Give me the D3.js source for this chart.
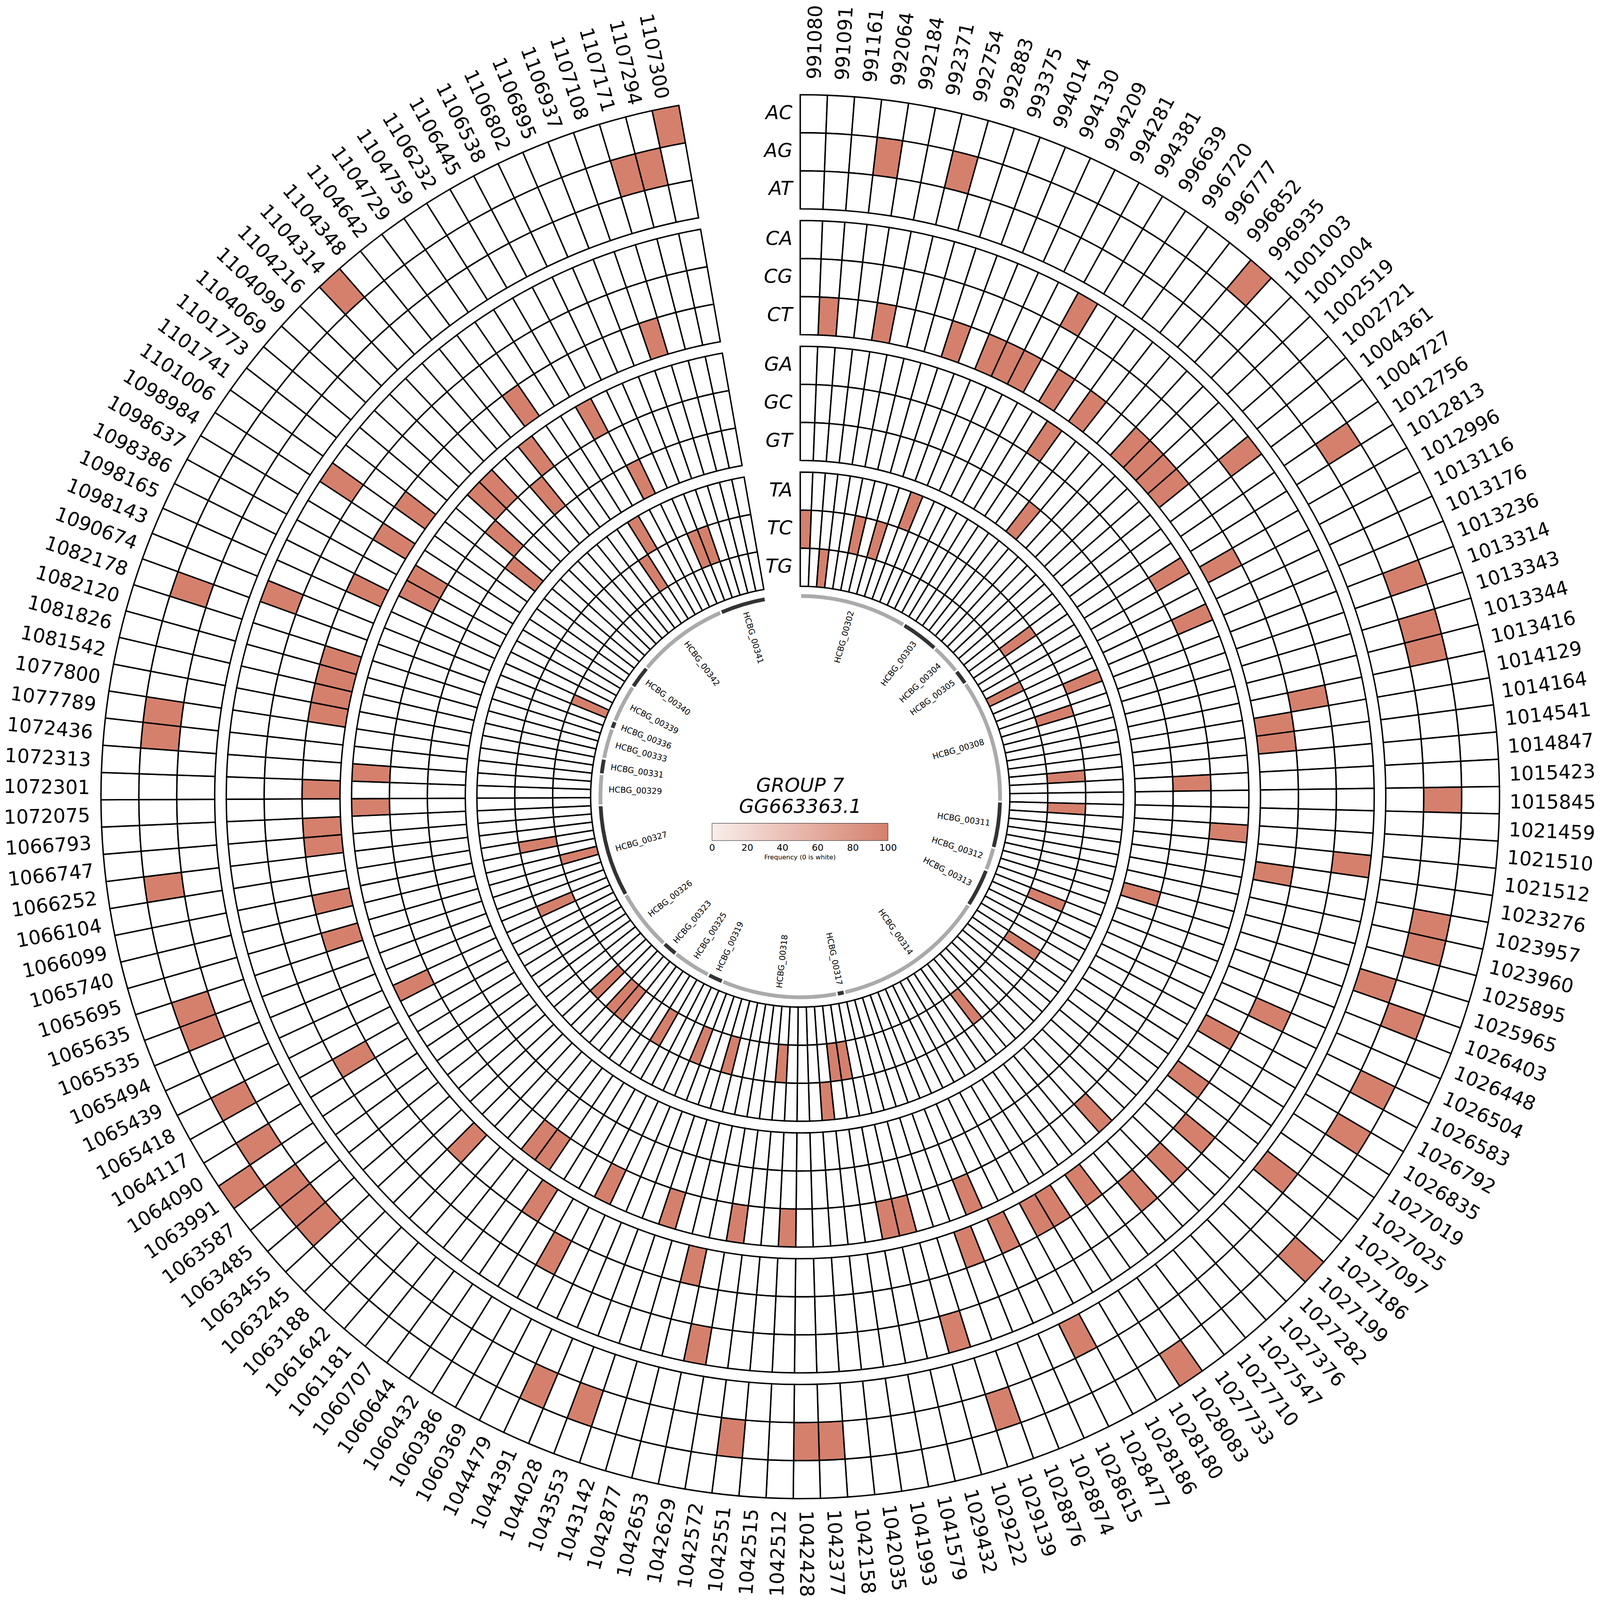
<!DOCTYPE html>
<html>
<head>
<meta charset="utf-8">
<style>
  html, body { margin: 0; padding: 0; background: #fff; overflow: hidden; }
  svg { display: block; width: 100vw; height: 100vh; }
  text { font-family: "DejaVu Sans"; fill: #000; }
</style>
<script src="https://cdn.jsdelivr.net/npm/d3@7"></script>
</head>
<body>
<div id="chart"></div>
<script>
const positions = [
  991080, 991091, 991161, 992064, 992184, 992371, 992754, 992883, 993375, 994014,
  994130, 994209, 994281, 994381, 996639, 996720, 996777, 996852, 996935, 1001003,
  1001004, 1002519, 1002721, 1004361, 1004727, 1012756, 1012813, 1012996, 1013116, 1013176,
  1013236, 1013314, 1013343, 1013344, 1013416, 1014129, 1014164, 1014541, 1014847, 1015423,
  1015845, 1021459, 1021510, 1021512, 1023276, 1023957, 1023960, 1025895, 1025965, 1026403,
  1026448, 1026504, 1026583, 1026792, 1026835, 1027019, 1027025, 1027097, 1027186, 1027199,
  1027282, 1027376, 1027547, 1027710, 1027733, 1028083, 1028180, 1028186, 1028477, 1028615,
  1028874, 1028876, 1029139, 1029222, 1029432, 1041579, 1041993, 1042035, 1042158, 1042377,
  1042428, 1042512, 1042515, 1042551, 1042572, 1042629, 1042653, 1042877, 1043142, 1043553,
  1044028, 1044391, 1044479, 1060369, 1060386, 1060432, 1060644, 1060707, 1061181, 1061642,
  1063188, 1063245, 1063455, 1063485, 1063587, 1063991, 1064090, 1064117, 1065418, 1065439,
  1065494, 1065535, 1065635, 1065695, 1065740, 1066099, 1066104, 1066252, 1066747, 1066793,
  1072075, 1072301, 1072313, 1072436, 1077789, 1077800, 1081542, 1081826, 1082120, 1082178,
  1090674, 1098143, 1098165, 1098386, 1098637, 1098984, 1101006, 1101741, 1101773, 1104069,
  1104099, 1104216, 1104314, 1104348, 1104642, 1104729, 1104759, 1106232, 1106445, 1106538,
  1106802, 1106895, 1106937, 1107108, 1107171, 1107294, 1107300
];

const substitutions = ['AC', 'AG', 'AT', 'CA', 'CG', 'CT', 'GA', 'GC', 'GT', 'TA', 'TC', 'TG'];

// indexes into positions where the frequency is 100, everything else is 0
const hitsAC = [18, 59, 65, 105, 142, 156];
const hitsAG = [3, 6, 25, 31, 33, 34, 40, 45, 46, 49, 52, 54, 72, 79, 80, 83, 89, 91, 102, 103, 104, 106, 108, 111, 112, 117, 123, 124, 129, 154, 155];
const hitsAT = [48, 57, 68];
const hitsCA = [13, 23, 43, 73, 85, 130, 136];
const hitsCG = [35, 51, 58, 60, 62, 93, 107];
const hitsCT = [1, 4, 8, 10, 11, 12, 14, 16, 19, 20, 21, 22, 27, 36, 37, 44, 53, 56, 64, 66, 67, 69, 71, 86, 95, 100, 113, 115, 118, 119, 121, 125, 126, 127, 128, 132, 135, 137, 145, 153];
const hitsGA = [15, 26, 29, 42, 61, 70, 74, 75, 81, 84, 88, 92, 96, 97, 109, 120, 122, 133, 134, 140, 141, 144, 148];
const hitsGC = [39, 139, 143];
const hitsGT = [17, 47, 138, 149];
const hitsTA = [9, 30, 78, 147];
const hitsTC = [0, 5, 7, 24, 32, 38, 41, 50, 55, 63, 76, 77, 82, 87, 90, 94, 98, 99, 101, 110, 116, 146, 151, 152];
const hitsTG = [2, 28, 114, 131];
const hits = [hitsAC, hitsAG, hitsAT, hitsCA, hitsCG, hitsCT, hitsGA, hitsGC, hitsGT, hitsTA, hitsTC, hitsTG];

const genes = ['HCBG_00302', 'HCBG_00303', 'HCBG_00304', 'HCBG_00305', 'HCBG_00308', 'HCBG_00311',
  'HCBG_00312', 'HCBG_00313', 'HCBG_00314', 'HCBG_00317', 'HCBG_00318', 'HCBG_00319',
  'HCBG_00325', 'HCBG_00323', 'HCBG_00326', 'HCBG_00327', 'HCBG_00329', 'HCBG_00331',
  'HCBG_00333', 'HCBG_00336', 'HCBG_00339', 'HCBG_00340', 'HCBG_00342', 'HCBG_00341'];
const geneStarts = [0, 14, 19, 23, 25, 41, 47, 50, 55, 75, 76, 91, 93, 98, 100, 108, 120, 124, 126, 130, 131, 136, 139, 151];
const geneEnds = [14, 19, 23, 25, 41, 47, 50, 55, 75, 76, 91, 93, 98, 100, 108, 120, 124, 126, 130, 131, 136, 139, 151, 157];

const colorbarTicks = [0, 20, 40, 60, 80, 100];

const width = 6766;
const height = 6740;
const cx = 3384;
const cy = 3356;
const deg = Math.PI / 180;
const bigFont = 82;

const svg = d3.select('#chart').append('svg')
  .attr('viewBox', [0, 0, width, height])
  .attr('preserveAspectRatio', 'none');

const g = svg.append('g').attr('transform', `translate(${cx},${cy})`);

const angle = d3.scaleBand()
  .domain(d3.range(positions.length))
  .range([0, 350 * deg]);

// tracks run outer to inner, with a gap after every third one
const trackHeight = 160.3;
const ringGap = 49;
const trackTop = i => 2957 - i * trackHeight - Math.floor(i / 3) * ringGap;

const color = d3.scaleLinear().domain([0, 100]).range(['#f9eeeb', '#d5806c']);
const cells = substitutions.flatMap((s, t) =>
  positions.map((p, i) => ({ track: t, index: i, value: hits[t].includes(i) ? 100 : 0 })));

const arc = d3.arc()
  .innerRadius(d => trackTop(d.track) - trackHeight)
  .outerRadius(d => trackTop(d.track))
  .startAngle(d => angle(d.index))
  .endAngle(d => angle(d.index) + angle.bandwidth());

g.append('g')
  .selectAll('path')
  .data(cells)
  .join('path')
    .attr('d', arc)
    .attr('fill', d => d.value === 0 ? '#fff' : color(d.value))
    .attr('stroke', '#000')
    .attr('stroke-width', 6);

// flip text on the left side so it never reads upside down
function radialTransform(theta, r) {
  const a = theta / deg;
  const rot = a < 180 ? a - 90 : a - 270;
  const x = r * Math.sin(theta);
  const y = -r * Math.cos(theta);
  return `translate(${x},${y}) rotate(${rot})`;
}

g.append('g')
  .attr('transform', 'translate(-2,5)')
  .selectAll('text')
  .data(positions)
  .join('text')
    .attr('transform', (d, i) => radialTransform(angle(i) + angle.bandwidth() / 2, 3184))
    .attr('text-anchor', 'middle')
    .attr('dy', '0.36em')
    .attr('font-size', bigFont)
    .text(d => d);

g.append('g')
  .selectAll('text')
  .data(substitutions)
  .join('text')
    .attr('x', -33)
    .attr('y', (d, i) => -(trackTop(i) - trackHeight / 2))
    .attr('dy', '0.27em')
    .attr('text-anchor', 'end')
    .attr('font-size', bigFont)
    .attr('font-style', 'italic')
    .text(d => d);

// gene track
const genePad = 0.25 * deg;
const geneStep = angle.bandwidth();
const geneArc = d3.arc()
  .innerRadius(837)
  .outerRadius(853)
  .startAngle((d, i) => geneStarts[i] * geneStep + genePad)
  .endAngle((d, i) => geneEnds[i] * geneStep - genePad);

g.append('g')
  .selectAll('path')
  .data(genes)
  .join('path')
    .attr('d', geneArc)
    .attr('fill', (d, i) => i % 2 ? '#333333' : '#aaaaaa');

g.append('g')
  .selectAll('text')
  .data(genes)
  .join('text')
    .attr('transform', (d, i) => radialTransform((geneStarts[i] + geneEnds[i]) / 2 * geneStep, 698))
    .attr('text-anchor', 'middle')
    .attr('dy', '0.27em')
    .attr('font-size', 34.4)
    .text(d => d);

// title
svg.append('text')
  .attr('x', cx).attr('y', 3335)
  .attr('text-anchor', 'middle')
  .attr('font-size', bigFont)
  .attr('font-style', 'italic')
  .text('GROUP 7');
svg.append('text')
  .attr('x', cx).attr('y', 3425)
  .attr('text-anchor', 'middle')
  .attr('font-size', bigFont)
  .attr('font-style', 'italic')
  .text('GG663363.1');

// colorbar
const barX = d3.scaleLinear().domain([0, 100]).range([3011, 3755]);
const barY = 3468;
const barH = 73;

const grad = svg.append('defs').append('linearGradient').attr('id', 'bar-grad');
grad.selectAll('stop')
  .data(colorbarTicks)
  .join('stop')
    .attr('offset', d => d + '%')
    .attr('stop-color', d => color(d));

svg.append('rect')
  .attr('x', barX(0)).attr('y', barY)
  .attr('width', barX(100) - barX(0)).attr('height', barH)
  .attr('fill', 'url(#bar-grad)')
  .attr('stroke', '#000')
  .attr('stroke-width', 1.5);

const barAxis = svg.append('g')
  .attr('transform', `translate(0,${barY + barH})`)
  .call(d3.axisBottom(barX).tickValues(colorbarTicks).tickSize(0).tickPadding(15));
barAxis.select('.domain').remove();
barAxis.selectAll('text')
  .attr('font-family', 'DejaVu Sans')
  .attr('font-size', 39);

svg.append('text')
  .attr('x', (barX(0) + barX(100)) / 2).attr('y', 3620)
  .attr('text-anchor', 'middle')
  .attr('font-size', 27.3)
  .text('Frequency (0 is white)');
</script>
</body>
</html>
